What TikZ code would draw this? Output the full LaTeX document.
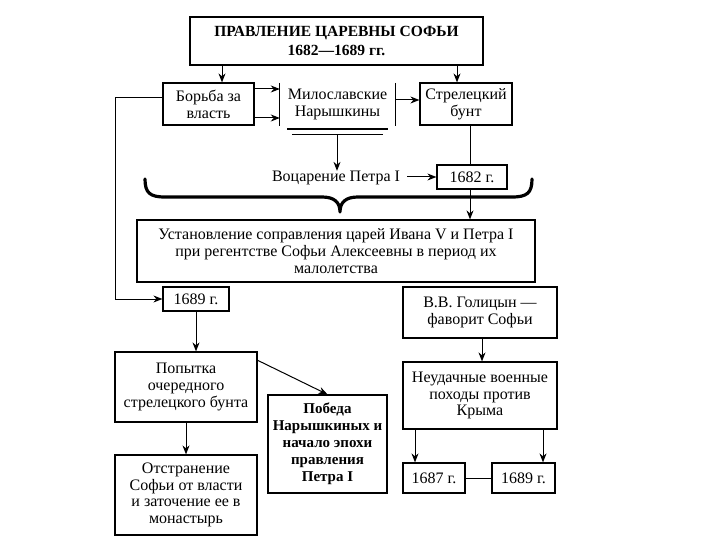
\documentclass[tikz,border=0pt]{standalone}
\usepackage{fontspec}
\setmainfont{Liberation Serif}
\usetikzlibrary{arrows.meta}
\begin{document}
\begin{tikzpicture}[x=1pt,y=-1pt,
  box/.style={draw, line width=1.2pt, align=center, inner sep=0pt, font=\fontsize{16}{16.8}\selectfont},
  plain/.style={align=center, inner sep=0pt, font=\fontsize{16}{17.5}\selectfont},
  arr/.style={line width=1pt, -{Stealth[length=9pt,width=7pt]}},
  ln/.style={line width=1pt}]
\useasboundingbox[fill=white] (0,0) rectangle (720,540);

% boxes
\node[box, minimum width=293pt, minimum height=48pt, font=\fontsize{15.5}{19.5}\selectfont\bfseries] (title) at (336.5,41) {ПРАВЛЕНИЕ ЦАРЕВНЫ СОФЬИ\\1682—1689 гг.};
\node[box, minimum width=91pt, minimum height=42pt] (borba) at (208.5,104) {Борьба за\\власть};
\node[plain, minimum width=115pt, minimum height=43pt] (milos) at (337.5,104.5) {Милославские\\Нарышкины};
\node[box, minimum width=92pt, minimum height=42pt] (strel) at (466,104) {Стрелецкий\\бунт};
\node[plain] (vozc) at (336,178) {Воцарение Петра I};
\node[box, minimum width=70pt, minimum height=24pt] (y1682) at (472,177) {1682 г.};
\node[box, minimum width=398pt, minimum height=62pt] (ustan) at (336,251) {Установление соправления царей Ивана V и Петра I\\при регентстве Софьи Алексеевны в период их\\малолетства};
\node[box, minimum width=66pt, minimum height=24pt] (y1689a) at (196,299) {1689 г.};
\node[box, minimum width=142pt, minimum height=70pt] (popyt) at (186,387) {Попытка\\очередного\\стрелецкого бунта};
\node[box, minimum width=119pt, minimum height=98pt, font=\fontsize{15}{17}\selectfont\bfseries] (pobeda) at (327.5,444) {Победа\\Нарышкиных и\\начало эпохи\\правления\\Петра I};
\node[box, minimum width=142pt, minimum height=80pt] (otstr) at (186,495) {Отстранение\\Софьи от власти\\и заточение ее в\\монастырь};
\node[box, minimum width=154pt, minimum height=51pt] (golit) at (480,312.5) {В.В. Голицын —\\фаворит Софьи};
\node[box, minimum width=154pt, minimum height=67pt] (neud) at (480,395.5) {Неудачные военные\\походы против\\Крыма};
\node[box, minimum width=62pt, minimum height=30pt] (y1687) at (434,478) {1687 г.};
\node[box, minimum width=63pt, minimum height=30pt] (y1689b) at (523.5,478) {1689 г.};

% side bars of Милославские / Нарышкины
\draw[ln] (milos.north west) -- (milos.south west);
\draw[ln] (milos.north east) -- (milos.south east);
\coordinate (dl1) at (287,129); \coordinate (dr1) at (388,129);
\coordinate (dl2) at (292,135); \coordinate (dr2) at (383,135);
\draw[line width=1.3pt] (dl1) -- (dr1);
\draw[ln] (dl2) -- (dr2);
\coordinate (dm) at (337,135);

% connectors
\coordinate (cA) at (222,0);
\coordinate (cB) at (457,0);
\draw[arr] (title.south -| cA) -- (borba.north -| cA);
\draw[arr] (title.south -| cB) -- (strel.north -| cB);
\coordinate (h1) at (0,89); \coordinate (h2) at (0,118); \coordinate (h3) at (0,100);
\draw[arr] (borba.east |- h1) -- (milos.west |- h1);
\draw[arr] (borba.east |- h2) -- (milos.west |- h2);
\draw[arr] (milos.east |- h3) -- (strel.west |- h3);
\draw[arr] (dm) -- (vozc.north -| dm);
\coordinate (cC) at (470,0);
\draw[ln] (strel.south -| cC) -- (y1682.north -| cC);
\coordinate (ve) at (407,177);
\draw[arr] (ve) -- (y1682.west);
\draw[arr] (y1682.south -| cC) -- (ustan.north -| cC);
\coordinate (h4) at (0,98); \coordinate (cL) at (115,0);
\draw[arr] (borba.west |- h4) -- (cL |- h4) -- (cL |- y1689a.west) -- (y1689a.west);
\draw[arr] (y1689a.south) -- (popyt.north -| y1689a.south);
\coordinate (ps) at (257,360);
\draw[arr] (ps) -- (pobeda.north);
\draw[arr] (popyt.south) -- (otstr.north);
\coordinate (cG) at (482,0);
\draw[arr] (golit.south -| cG) -- (neud.north -| cG);
\coordinate (cD) at (415,0); \coordinate (cE) at (543,0);
\draw[arr] (neud.south -| cD) -- (y1687.north -| cD);
\draw[arr] (neud.south -| cE) -- (y1689b.north -| cE);
\draw[ln] (y1687.east) -- (y1689b.west);

% big brace
\draw[line width=3.2pt, line cap=round, line join=round]
  (145,179) .. controls (145,193) and (150,197) .. (165,197) -- (322,197)
  .. controls (334,197) and (340,202) .. (340,212)
  .. controls (340,202) and (346,197) .. (358,197) -- (512,197)
  .. controls (527,197) and (532,193) .. (532,179);
\end{tikzpicture}
\end{document}
